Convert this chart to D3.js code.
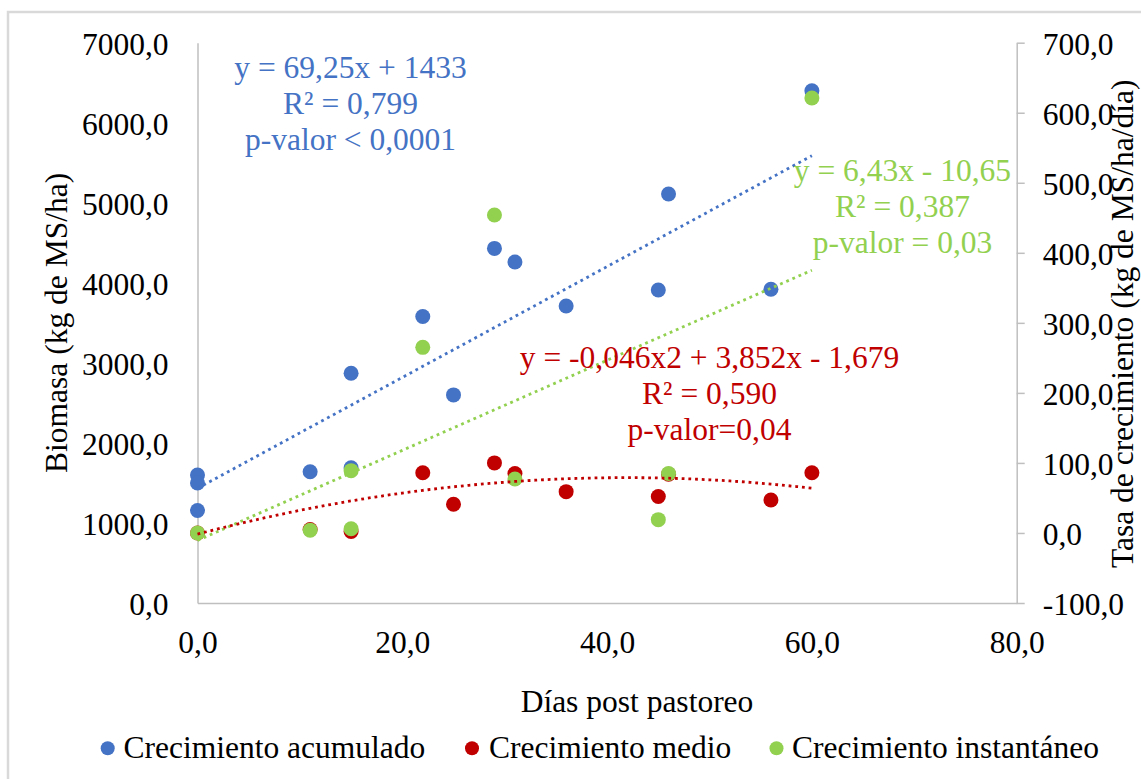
<!DOCTYPE html>
<html>
<head>
<meta charset="utf-8">
<script src="https://cdn.jsdelivr.net/npm/d3@7"></script>
<style>
  html, body { margin: 0; padding: 0; background: #fff; }
  svg { display: block; }
  text { font-family: "Liberation Serif", "Times New Roman", serif; }
</style>
</head>
<body>
<svg id="chart" width="1141" height="779"></svg>
<script>
// Días post pastoreo and observed values for each series
const diasAcumulado = [0, 0, 0, 11, 15, 15, 22, 25, 29, 31, 36, 45, 46, 56, 60];
const biomasaAcumulado = [1600, 1500, 1155, 1640, 1690, 2870, 3580, 2600, 4430, 4260, 3710, 3910, 5110, 3920, 6400];

const diasMedio = [0, 11, 15, 22, 25, 29, 31, 36, 45, 46, 56, 60];
const tasaMedio = [0, 5, 2, 86, 41, 100, 85, 59, 52, 84, 47, 86];

const diasInstantaneo = [0, 11, 15, 15, 22, 29, 31, 45, 46, 60];
const tasaInstantaneo = [0, 4, 6, 89, 265, 454, 77, 19, 85, 621];

// Trendline coefficients [c0, c1, c2] for y = c0 + c1*x + c2*x^2
const coefAcumulado = [1433, 69.25, 0];
const coefMedio = [-1.679, 3.852, -0.046];
const coefInstantaneo = [-10.65, 6.43, 0];

// Tick values
const xTicks = [0, 20, 40, 60, 80];
const leftTicks = [0, 1000, 2000, 3000, 4000, 5000, 6000, 7000];
const rightTicks = [-100, 0, 100, 200, 300, 400, 500, 600, 700];

// Series names and equation labels
const seriesNames = ["Crecimiento acumulado", "Crecimiento medio", "Crecimiento instantáneo"];
const labelAcumulado = ["y = 69,25x + 1433", "R² = 0,799", "p-valor < 0,0001"];
const labelMedio = ["y = -0,046x2 + 3,852x - 1,679", "R² = 0,590", "p-valor=0,04"];
const labelInstantaneo = ["y = 6,43x - 10,65", "R² = 0,387", "p-valor = 0,03"];

const COLORS = { acum: "#4472C4", medio: "#C00000", inst: "#92D050" };
const FONT = 31.5;
const SERIF = '"Liberation Serif", "Times New Roman", serif';

const svg = d3.select("#chart");
const W = 1141, H = 779;
const plot = { left: 197.5, right: 1016.7, top: 42.7, bottom: 603 };

const locale = d3.formatLocale({ decimal: ",", thousands: ".", grouping: [3], currency: ["", ""], minus: "-" });
const fmt = locale.format(".1f");

const x = d3.scaleLinear().domain([0, 80]).range([plot.left, plot.right]);
const yL = d3.scaleLinear().domain([0, 7000]).range([plot.bottom, plot.top]);
const yR = d3.scaleLinear().domain([-100, 700]).range([plot.bottom, plot.top]);

// outer frame (top and left edges)
svg.append("path")
  .attr("d", `M8,${H} L8,12 L${W},12`)
  .attr("fill", "none").attr("stroke", "#d9d9d9").attr("stroke-width", 2.5);

const axisColor = "#bfbfbf";

// left axis
const gL = svg.append("g").attr("transform", `translate(${plot.left},0)`)
  .call(d3.axisLeft(yL).tickValues(leftTicks).tickFormat(fmt).tickSize(0).tickPadding(29));
gL.attr("font-family", SERIF);
gL.select(".domain").attr("stroke", axisColor).attr("stroke-width", 1.5);
gL.selectAll("text").attr("font-size", FONT).attr("fill", "#000").attr("dy", "0.38em");

// right axis
const gR = svg.append("g").attr("transform", `translate(${plot.right},0)`)
  .call(d3.axisRight(yR).tickValues(rightTicks).tickFormat(fmt).tickSize(8).tickSizeOuter(0).tickPadding(18));
gR.attr("font-family", SERIF);
gR.select(".domain").attr("stroke", axisColor).attr("stroke-width", 1.5);
gR.selectAll(".tick line").attr("stroke", axisColor).attr("stroke-width", 1.5);
gR.selectAll("text").attr("font-size", FONT).attr("fill", "#000").attr("dy", "0.38em");

// bottom axis
const gB = svg.append("g").attr("transform", `translate(0,${plot.bottom})`)
  .call(d3.axisBottom(x).tickValues(xTicks).tickFormat(fmt).tickSize(0).tickSizeOuter(0).tickPadding(28));
gB.attr("font-family", SERIF);
gB.select(".domain").attr("stroke", axisColor).attr("stroke-width", 1.5);
gB.selectAll("text").attr("font-size", FONT).attr("fill", "#000").attr("dy", "0.71em");

// axis titles
svg.append("text")
  .attr("transform", `translate(67,${(plot.top + plot.bottom) / 2}) rotate(-90)`)
  .attr("text-anchor", "middle").attr("font-size", FONT).attr("fill", "#000")
  .text("Biomasa (kg de MS/ha)");
svg.append("text")
  .attr("transform", `translate(1133,${(plot.top + plot.bottom) / 2 + 1}) rotate(-90)`)
  .attr("text-anchor", "middle").attr("font-size", FONT).attr("fill", "#000")
  .text("Tasa de crecimiento (kg de MS/ha/día)");
svg.append("text")
  .attr("x", 637).attr("y", 712)
  .attr("text-anchor", "middle").attr("font-size", FONT).attr("fill", "#000")
  .text("Días post pastoreo");

// points
function drawPoints(xs, ys, yScale, color) {
  svg.append("g").selectAll("circle")
    .data(xs.map((d, i) => [d, ys[i]]))
    .join("circle")
    .attr("cx", d => x(d[0]))
    .attr("cy", d => yScale(d[1]))
    .attr("r", 7.5)
    .attr("fill", color);
}
drawPoints(diasAcumulado, biomasaAcumulado, yL, COLORS.acum);
drawPoints(diasMedio, tasaMedio, yR, COLORS.medio);
drawPoints(diasInstantaneo, tasaInstantaneo, yR, COLORS.inst);

// dotted trendlines over the observed range of days
function drawTrend(coef, yScale, color) {
  const xs = d3.range(0, 60.01, 0.5);
  const line = d3.line()
    .x(d => x(d))
    .y(d => yScale(coef[0] + coef[1] * d + coef[2] * d * d));
  svg.append("path")
    .attr("d", line(xs))
    .attr("fill", "none")
    .attr("stroke", color)
    .attr("stroke-width", 2.8)
    .attr("stroke-dasharray", "2.8 3.9");
}
drawTrend(coefAcumulado, yL, COLORS.acum);
drawTrend(coefInstantaneo, yR, COLORS.inst);
drawTrend(coefMedio, yR, COLORS.medio);

// equation labels
function drawLabel(lines, cx, baseline, color) {
  const t = svg.append("text")
    .attr("text-anchor", "middle").attr("font-size", FONT).attr("fill", color);
  lines.forEach((s, i) => {
    t.append("tspan").attr("x", cx).attr("y", baseline + i * 36).text(s);
  });
}
drawLabel(labelAcumulado, 350.5, 78, COLORS.acum);
drawLabel(labelInstantaneo, 902.5, 180.7, COLORS.inst);
drawLabel(labelMedio, 709.5, 367.7, COLORS.medio);

// legend
const legendItems = [
  { name: seriesNames[0], color: COLORS.acum, cx: 107.7, tx: 123.5 },
  { name: seriesNames[1], color: COLORS.medio, cx: 472, tx: 489 },
  { name: seriesNames[2], color: COLORS.inst, cx: 776.5, tx: 792 }
];
const lg = svg.append("g");
legendItems.forEach(it => {
  lg.append("circle").attr("cx", it.cx).attr("cy", 748.3).attr("r", 7).attr("fill", it.color);
  lg.append("text").attr("x", it.tx).attr("y", 757.5)
    .attr("font-size", FONT).attr("fill", "#000").text(it.name);
});
</script>
</body>
</html>
